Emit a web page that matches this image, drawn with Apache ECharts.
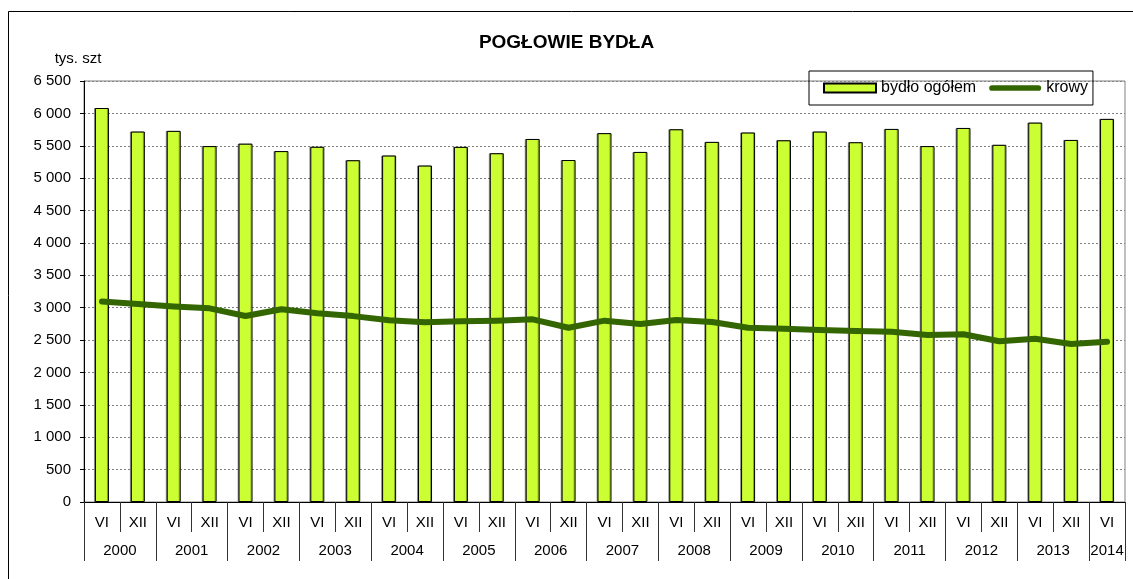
<!DOCTYPE html>
<html>
<head>
<meta charset="utf-8">
<title>Pogłowie bydła</title>
<script src="https://cdn.jsdelivr.net/npm/echarts@6/dist/echarts.min.js"></script>
<style>
    html, body { margin: 0; padding: 0; background: #fff; }
    #chart { width: 1133px; height: 579px; }
</style>
</head>
<body>
<div id="chart"></div>
<script>
var years = ['2000', '2001', '2002', '2003', '2004', '2005', '2006', '2007',
    '2008', '2009', '2010', '2011', '2012', '2013', '2014'];
var halves = ['VI', 'XII'];

// thousands of head, June and December of each year
var bydlo = [6083, 5720, 5730, 5495, 5533, 5418, 5485, 5277, 5350, 5195,
    5483, 5385, 5605, 5280, 5695, 5405, 5755, 5560, 5705, 5585,
    5720, 5555, 5760, 5495, 5775, 5515, 5858, 5590, 5915];
var krowy = [3095, 3057, 3020, 2990, 2872, 2975, 2913, 2870, 2805, 2775,
    2790, 2800, 2820, 2690, 2800, 2748, 2810, 2779, 2691, 2676,
    2656, 2640, 2630, 2578, 2589, 2481, 2521, 2439, 2475];

var yTicks = { min: 0, max: 6500, step: 500 };

var font = 'Liberation Sans, Arial, sans-serif';

// month labels: VI, XII for every year, last year only VI
var months = [];
years.forEach(function(y, i) {
    months.push(halves[0]);
    if (i < years.length - 1)
        months.push(halves[1]);
});

// second axis in half-category steps, used for the year row
var yearSlots = [];
for (var s = 0; s <= months.length * 2; s++) {
    var label = '';
    if (s % 4 == 2 && (s - 2) / 4 < years.length - 1)
        label = years[(s - 2) / 4];
    if (s == months.length * 2 - 1)
        label = years[years.length - 1];
    yearSlots.push(label);
}

function fmtThousands(v) {
    return String(v).replace(/\B(?=(\d{3})+(?!\d))/g, ' ');
}

// thick rounded stroke for the legend of the line series
var lineIcon = 'path://M3,0L52,0A3,3,0,0,1,52,6L3,6A3,3,0,0,1,3,0Z';

var option = {
    animation: false,
    backgroundColor: '#fff',
    textStyle: { fontFamily: font },
    graphic: [{
        type: 'rect',
        shape: { x: 8.5, y: 11.5, width: 1130, height: 580 },
        style: { fill: 'none', stroke: '#000', lineWidth: 1 },
        silent: true
    }],
    title: {
        text: 'POGŁOWIE BYDŁA',
        left: 'center',
        top: 33,
        padding: 0,
        textStyle: { fontFamily: font, fontSize: 19, fontWeight: 'bold', color: '#000' }
    },
    legend: {
        left: 809,
        top: 71,
        itemWidth: 52,
        itemHeight: 9,
        itemGap: 13,
        padding: [9, 5, 9, 14],
        borderColor: '#000',
        borderWidth: 1,
        symbolKeepAspect: true,
        textStyle: { fontFamily: font, fontSize: 16, color: '#000' },
        data: [
            { name: 'bydło ogółem', icon: 'rect' },
            { name: 'krowy', icon: lineIcon, itemStyle: { color: '#336600', borderWidth: 0 } }
        ]
    },
    grid: {
        left: 84,
        right: 8,
        top: 81,
        bottom: 77,
        show: true,
        borderColor: '#808080',
        borderWidth: 1
    },
    xAxis: [{
        type: 'category',
        data: months,
        position: 'bottom',
        axisLine: { lineStyle: { color: '#000', width: 1 } },
        axisTick: { show: true, interval: 0, length: 30, lineStyle: { color: '#333' } },
        axisLabel: { interval: 0, margin: 13, fontFamily: font, fontSize: 15, color: '#000' },
        splitLine: { show: false }
    }, {
        type: 'category',
        data: yearSlots,
        position: 'bottom',
        boundaryGap: false,
        axisLine: { show: false },
        axisTick: {
            show: true,
            length: 59,
            interval: function(i) { return i % 4 == 0 || i == months.length * 2; },
            lineStyle: { color: '#333' }
        },
        axisLabel: { interval: 0, margin: 41, fontFamily: font, fontSize: 15, color: '#000' },
        splitLine: { show: false }
    }],
    yAxis: {
        type: 'value',
        min: yTicks.min,
        max: yTicks.max,
        interval: yTicks.step,
        name: 'tys. szt',
        nameLocation: 'end',
        nameGap: 15,
        nameTextStyle: { fontFamily: font, fontSize: 15, color: '#000', padding: [0, 12, 0, 0] },
        axisLine: { show: true, lineStyle: { color: '#000', width: 1 } },
        axisTick: { show: true, length: 4, lineStyle: { color: '#000' } },
        axisLabel: {
            margin: 13,
            fontFamily: font,
            fontSize: 15,
            color: '#000',
            formatter: fmtThousands
        },
        splitLine: { show: true, lineStyle: { color: '#808080', type: [2, 2], width: 1 } }
    },
    series: [{
        name: 'bydło ogółem',
        type: 'bar',
        xAxisIndex: 0,
        barWidth: 14,
        data: bydlo,
        itemStyle: {
            color: '#ccff33',
            borderColor: '#000',
            borderWidth: 1,
            shadowColor: 'rgba(0,0,0,0.35)',
            shadowOffsetX: -1,
            shadowOffsetY: 0
        },
        z: 2
    }, {
        name: 'krowy',
        type: 'line',
        xAxisIndex: 0,
        data: krowy,
        symbol: 'none',
        smooth: false,
        lineStyle: { color: '#336600', width: 6, cap: 'round', join: 'round' },
        itemStyle: { color: '#336600' },
        z: 3
    }]
};

echarts.init(document.getElementById('chart')).setOption(option);
</script>
</body>
</html>
